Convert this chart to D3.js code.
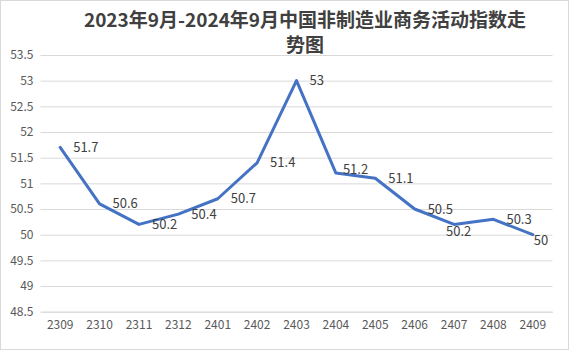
<!DOCTYPE html>
<html>
<head>
<meta charset="utf-8">
<script src="https://cdn.jsdelivr.net/npm/d3@7"></script>
<style>
  html, body { margin: 0; padding: 0; background: #fff; }
  svg { display: block; font-family: "Noto Sans CJK SC", "Microsoft YaHei", sans-serif; }
</style>
</head>
<body>
<svg id="chart" width="569" height="350"></svg>
<script>
// Monthly non-manufacturing business activity index, Sep 2023 – Sep 2024
const months = ["2309","2310","2311","2312","2401","2402","2403","2404","2405","2406","2407","2408","2409"];
const indexValues = [51.7, 50.6, 50.2, 50.4, 50.7, 51.4, 53, 51.2, 51.1, 50.5, 50.2, 50.3, 50];
const yTicks = [48.5, 49, 49.5, 50, 50.5, 51, 51.5, 52, 52.5, 53, 53.5];
const titleLines = ["2023年9月-2024年9月中国非制造业商务活动指数走", "势图"];

const W = 569, H = 350;
const plot = { left: 40.5, right: 552.5, top: 55, bottom: 311.7 };

const svg = d3.select("#chart");

// outer frame
svg.append("rect")
  .attr("x", 0.5).attr("y", 0.5)
  .attr("width", W - 1).attr("height", H - 1)
  .attr("fill", "#fff").attr("stroke", "#d9d9d9");

// title
svg.append("g").selectAll("text")
  .data(titleLines).join("text")
  .attr("x", 305)
  .attr("y", (d, i) => 27 + i * 25)
  .attr("text-anchor", "middle")
  .attr("font-size", 19)
  .attr("font-weight", "bold")
  .attr("fill", "#404040")
  .text(d => d);

const x = d3.scaleBand().domain(months).range([plot.left, plot.right]);
const y = d3.scaleLinear().domain([48.5, 53.5]).range([plot.bottom, plot.top]);

// horizontal gridlines + y labels
const yAxis = d3.axisLeft(y)
  .tickValues(yTicks)
  .tickSize(-(plot.right - plot.left))
  .tickPadding(7)
  .tickFormat(d => d3.format("")(d));
const gy = svg.append("g")
  .attr("transform", `translate(${plot.left},0)`)
  .call(yAxis);
gy.select(".domain").remove();
gy.selectAll(".tick line").attr("stroke", "#d9d9d9").attr("stroke-width", 1);
gy.selectAll(".tick text")
  .attr("fill", "#595959")
  .attr("font-size", 12)
  .attr("font-family", "\"Noto Sans CJK SC\", sans-serif");

// category axis
const xAxis = d3.axisBottom(x).tickSize(0).tickPadding(9);
const gx = svg.append("g")
  .attr("transform", `translate(0,${plot.bottom})`)
  .call(xAxis);
gx.select(".domain").attr("stroke", "#d9d9d9");
gx.selectAll(".tick text")
  .attr("fill", "#595959")
  .attr("font-size", 12)
  .attr("font-family", "\"Noto Sans CJK SC\", sans-serif");

const px = m => x(m) + x.bandwidth() / 2;
const points = months.map((m, i) => ({ m, v: indexValues[i] }));

// index line
svg.append("path")
  .datum(points)
  .attr("fill", "none")
  .attr("stroke", "#4472C4")
  .attr("stroke-width", 3)
  .attr("stroke-linejoin", "round")
  .attr("stroke-linecap", "round")
  .attr("d", d3.line().x(d => px(d.m)).y(d => y(d.v)));

// value labels sit to the right of each point; a few are nudged to avoid the line
const labelNudge = { "2404": [-6, -4], "2407": [-21, 7], "2409": [-12, 6] };
svg.append("g").selectAll("text")
  .data(points).join("text")
  .attr("x", d => px(d.m) + 13 + (labelNudge[d.m] ? labelNudge[d.m][0] : 0))
  .attr("y", d => y(d.v) + (labelNudge[d.m] ? labelNudge[d.m][1] : 0))
  .attr("dy", "0.35em")
  .attr("font-size", 13)
  .attr("fill", "#404040")
  .text(d => d.v);
</script>
</body>
</html>
